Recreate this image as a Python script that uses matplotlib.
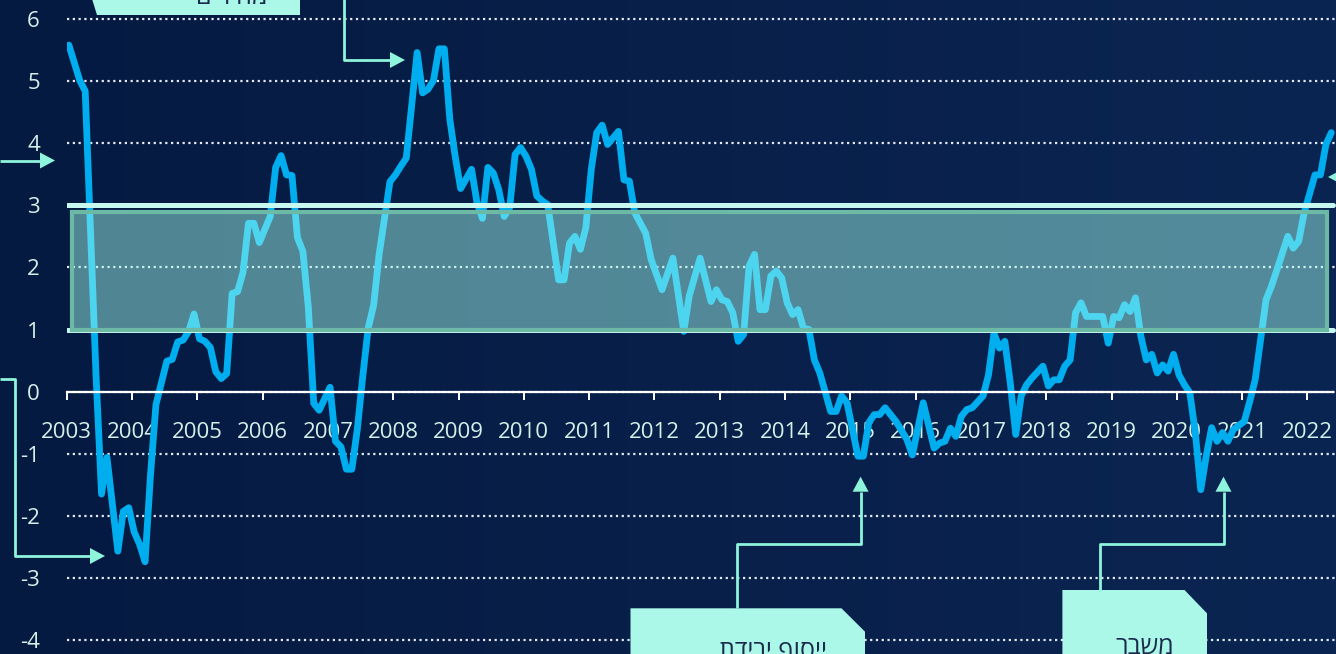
import matplotlib
matplotlib.use("Agg")
import matplotlib.pyplot as plt
from matplotlib.patches import Rectangle, Polygon
import numpy as np
import pandas as pd

plt.rcParams["font.family"] = ["Open Sans", "DejaVu Sans"]

# Israeli CPI, 12-month change (%)
months = [
    "2003-01", "2003-03", "2003-04", "2003-06", "2003-07", "2003-08", "2003-10", "2003-11", "2003-12",
    "2004-01", "2004-02", "2004-03", "2004-04", "2004-05", "2004-07", "2004-08", "2004-09", "2004-10", "2004-11", "2004-12",
    "2005-01", "2005-02", "2005-03", "2005-04", "2005-05", "2005-06", "2005-07", "2005-08", "2005-09", "2005-10", "2005-11", "2005-12",
    "2006-02", "2006-03", "2006-04", "2006-05", "2006-06", "2006-07", "2006-08", "2006-09", "2006-10", "2006-11",
    "2007-01", "2007-02", "2007-03", "2007-04", "2007-05", "2007-06", "2007-07", "2007-08", "2007-09", "2007-10", "2007-12",
    "2008-01", "2008-02", "2008-03", "2008-05", "2008-06", "2008-07", "2008-08", "2008-09", "2008-10", "2008-11", "2008-12",
    "2009-01", "2009-03", "2009-04", "2009-05", "2009-06", "2009-07", "2009-08", "2009-09", "2009-10", "2009-11", "2009-12",
    "2010-01", "2010-02", "2010-03", "2010-04", "2010-05", "2010-07", "2010-08", "2010-09", "2010-10", "2010-11", "2010-12",
    "2011-01", "2011-02", "2011-03", "2011-04", "2011-06", "2011-07", "2011-08", "2011-09", "2011-11", "2011-12",
    "2012-02", "2012-04", "2012-06", "2012-07", "2012-09", "2012-11", "2012-12",
    "2013-01", "2013-02", "2013-03", "2013-04", "2013-05", "2013-06", "2013-07", "2013-08", "2013-09", "2013-10", "2013-11", "2013-12",
    "2014-01", "2014-02", "2014-03", "2014-04", "2014-05", "2014-06", "2014-07", "2014-09", "2014-10", "2014-11", "2014-12",
    "2015-02", "2015-03", "2015-04", "2015-05", "2015-06", "2015-07", "2015-08", "2015-09", "2015-11", "2015-12",
    "2016-02", "2016-04", "2016-05", "2016-06", "2016-07", "2016-08", "2016-09", "2016-10", "2016-11",
    "2017-01", "2017-02", "2017-03", "2017-04", "2017-05", "2017-06", "2017-07", "2017-08", "2017-09", "2017-10", "2017-12",
    "2018-01", "2018-02", "2018-03", "2018-04", "2018-05", "2018-06", "2018-07", "2018-08", "2018-11", "2018-12",
    "2019-01", "2019-02", "2019-03", "2019-04", "2019-05", "2019-06", "2019-07", "2019-08", "2019-09", "2019-10", "2019-11", "2019-12",
    "2020-01", "2020-02", "2020-03", "2020-04", "2020-05", "2020-06", "2020-07", "2020-08", "2020-09", "2020-10", "2020-11",
    "2021-01", "2021-02", "2021-03", "2021-04", "2021-05", "2021-06", "2021-07", "2021-09", "2021-10", "2021-11", "2021-12",
    "2022-02", "2022-03", "2022-04", "2022-05",
]
inflation = [
    5.58, 5.01, 4.84, 0.24, -1.65, -1.06, -2.57, -1.93, -1.87,
    -2.26, -2.46, -2.74, -1.34, -0.21, 0.49, 0.52, 0.80, 0.83, 0.97, 1.25,
    0.85, 0.81, 0.71, 0.32, 0.21, 0.29, 1.58, 1.61, 1.92, 2.71, 2.71, 2.40,
    2.82, 3.61, 3.80, 3.49, 3.48, 2.48, 2.26, 1.36, -0.19, -0.30,
    0.07, -0.80, -0.89, -1.25, -1.25, -0.61, 0.24, 1.02, 1.39, 2.20, 3.38,
    3.49, 3.63, 3.76, 5.46, 4.81, 4.87, 5.01, 5.52, 5.52, 4.39, 3.78,
    3.27, 3.58, 3.04, 2.79, 3.61, 3.52, 3.25, 2.82, 2.96, 3.82, 3.93,
    3.79, 3.58, 3.15, 3.07, 3.01, 1.80, 1.80, 2.39, 2.50, 2.29, 2.64,
    3.58, 4.17, 4.29, 3.98, 4.19, 3.41, 3.39, 2.88, 2.55, 2.13,
    1.64, 2.15, 0.97, 1.54, 2.15, 1.45, 1.64,
    1.48, 1.45, 1.27, 0.81, 0.92, 2.02, 2.21, 1.32, 1.32, 1.86, 1.94, 1.83,
    1.43, 1.24, 1.32, 1.02, 1.00, 0.51, 0.30, -0.32, -0.32, -0.07, -0.18,
    -1.04, -1.04, -0.50, -0.37, -0.37, -0.26, -0.37, -0.48, -0.77, -1.02,
    -0.18, -0.91, -0.83, -0.80, -0.59, -0.72, -0.40, -0.29, -0.26,
    -0.07, 0.27, 0.94, 0.70, 0.81, 0.14, -0.69, -0.07, 0.11, 0.22, 0.41,
    0.09, 0.19, 0.19, 0.41, 0.51, 1.27, 1.43, 1.21, 1.21, 0.78,
    1.21, 1.19, 1.40, 1.29, 1.51, 0.89, 0.51, 0.60, 0.30, 0.43, 0.33, 0.60,
    0.27, 0.11, -0.02, -0.66, -1.58, -1.04, -0.58, -0.80, -0.66, -0.80, -0.61,
    -0.48, -0.16, 0.19, 0.84, 1.48, 1.70, 1.96, 2.50, 2.31, 2.42, 2.88,
    3.49, 3.49, 3.98, 4.17,
]

years = list(range(2003, 2023))
y_ticks = list(range(-4, 7))
target_low, target_high = 1.0, 3.0

# callout texts (logical order, reversed for drawing)
label_top = "מחירים"
label_shekel = "ייסוף ירידת"
label_crisis = "משבר"

BG_LEFT = "#051a41"
BG_RIGHT = "#0b2552"
LINE = "#00aeef"
MINT = "#8ef4db"
BOX = "#abf8e8"
TEXT_LIGHT = "#d2f1e9"
TEXT_DARK = "#1a2a4c"

W, H = 1336, 654
fig = plt.figure(figsize=(W / 100, H / 100), dpi=100)
fig.patch.set_facecolor(BG_LEFT)

# background gradient
bg = fig.add_axes([0, 0, 1, 1], zorder=-5)
grad = np.linspace(0, 1, 256)[None, :]
cmap = matplotlib.colors.LinearSegmentedColormap.from_list("bg", [BG_LEFT, BG_RIGHT])
bg.imshow(grad, aspect="auto", cmap=cmap, extent=[0, 1, 0, 1])
bg.axis("off")

# main chart axes
x0 = 66.7
px_year = 65.3
px_unit = 62.1
ax = fig.add_axes([x0 / W, 0, 1 - x0 / W, 1])
ax.patch.set_alpha(0)
ax.set_xlim(2003, 2003 + (W - x0) / px_year)
ax.set_ylim(-4 - 14 / px_unit, 6 + 19 / px_unit)

dt = pd.to_datetime(months)
xs = dt.year + (dt.month - 1 + 0.4) / 12.0
ax.plot(xs, inflation, color=LINE, lw=4.9, solid_joinstyle="round",
        solid_capstyle="round", zorder=2)

# inflation target band
for yv in (target_low, target_high):
    ax.plot([2003, 2022.39], [yv, yv], color="#c6f8f0", lw=3.6,
            solid_capstyle="round", zorder=3)
ax.add_patch(Rectangle((2003.08, 0.99), 2022.30 - 2003.08, 2.90 - 0.99,
                       facecolor=(0.65, 1.0, 0.94, 0.47),
                       edgecolor="#6cbaa6", lw=3, zorder=4))

ax.set_yticks(y_ticks)
ax.set_yticklabels([str(v) for v in y_ticks])
ax.set_xticks(years)
ax.set_xticklabels([str(y) for y in years])
ax.grid(axis="y", linestyle=(0, (1, 1.6)), linewidth=1.6, color="#e4eaf4", zorder=1)
ax.set_axisbelow(True)

for s in ("left", "right", "top"):
    ax.spines[s].set_visible(False)
ax.spines["bottom"].set_position(("data", 0))
ax.spines["bottom"].set_color("white")
ax.spines["bottom"].set_linewidth(1.6)
ax.spines["bottom"].set_bounds(2003, 2022.39)
ax.tick_params(axis="y", length=0, pad=19.4, labelsize=16, labelcolor=TEXT_LIGHT)
ax.tick_params(axis="x", length=6, width=1.4, color="white", pad=16,
               labelsize=16, labelcolor=TEXT_LIGHT)

# overlay in pixel coordinates for callouts
ov = fig.add_axes([0, 0, 1, 1], zorder=10)
ov.set_xlim(0, W)
ov.set_ylim(H, 0)
ov.axis("off")
ov.patch.set_alpha(0)


def connector(pts, head=15, half=8):
    pts = np.asarray(pts, dtype=float)
    tip = pts[-1]
    d = tip - pts[-2]
    d = d / np.hypot(*d)
    n = np.array([-d[1], d[0]])
    base = tip - d * head
    ov.plot(pts[:-1, 0].tolist() + [base[0]], pts[:-1, 1].tolist() + [base[1]],
            color=MINT, lw=2.0, solid_capstyle="butt")
    ov.add_patch(Polygon([tip, base + n * half, base - n * half],
                         closed=True, color=MINT, lw=0))


def callout_box(left, right, top, cut, bottom=H + 40, at_top=False):
    if at_top:
        poly = [(left, -40), (right, -40), (right, top), (left + cut, top)]
    else:
        poly = [(left, top), (right - cut[0], top), (right, top + cut[1]),
                (right, bottom), (left, bottom)]
    ov.add_patch(Polygon(poly, closed=True, color=BOX, lw=0))


# 2008 callout (top left)
callout_box(80, 300, 15, 17, at_top=True)
ov.text(267, 4, label_top[::-1], ha="right", va="baseline", fontsize=18,
        color=TEXT_DARK)
connector([(343.5, -5), (343.5, 60), (405, 60)])

# callouts whose boxes sit past the left and right edges
connector([(0, 160.5), (55, 160.5)])
connector([(0, 378.5), (15, 378.5), (15, 556), (105, 556)])
connector([(1350, 177), (1328, 177)])

# 2015 callout
callout_box(630.5, 865, 608.3, (23.5, 23.4))
ov.text(773, 658, label_shekel[::-1], ha="center", va="baseline",
        fontsize=18, color=TEXT_DARK)
connector([(737, 608), (737, 544.3), (860.6, 544.3), (860.6, 476.7)])

# 2020 callout
callout_box(1062.4, 1207, 590, (22.5, 23.3))
ov.text(1145, 654, label_crisis[::-1], ha="center", va="baseline",
        fontsize=18, color=TEXT_DARK)
connector([(1100, 590), (1100, 544.3), (1223.5, 544.3), (1223.5, 476.7)])

plt.savefig("out.png", dpi=100, facecolor=fig.get_facecolor())
